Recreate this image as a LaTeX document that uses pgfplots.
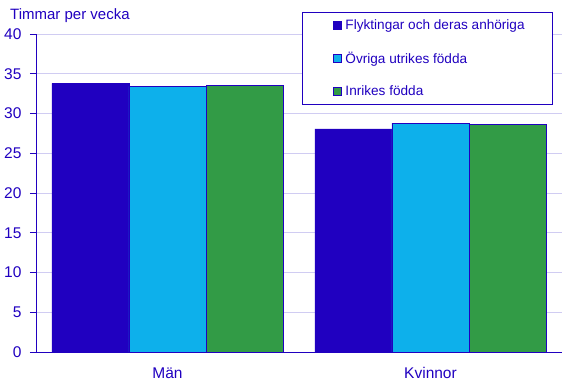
\documentclass[border=0pt]{standalone}
\usepackage{fontspec}
\setmainfont{Liberation Sans}
\usepackage{pgfplots}
\pgfplotsset{compat=1.18}
\definecolor{dblue}{RGB}{32,0,192}
\definecolor{lblue}{RGB}{13,176,235}
\definecolor{sgreen}{RGB}{50,155,70}
\definecolor{gridc}{RGB}{208,204,242}
\begin{document}
\begin{tikzpicture}
\begin{axis}[
  name=ax,
  scale only axis,
  width=526pt, height=318pt,
  ybar=0pt,
  bar width=0.293,
  xmin=-0.5, xmax=1.5,
  ymin=0, ymax=40,
  xtick={0,1},
  xticklabels={Män,Kvinnor},
  ytick={0,5,...,40},
  axis x line*=bottom,
  axis y line*=left,
  axis line style={dblue, line width=0.8pt},
  x axis line style={-},
  y axis line style={-},
  ymajorgrids,
  major grid style={gridc, line width=0.6pt},
  major y tick style={dblue, line width=0.8pt},
  major x tick style={draw=none},
  tick align=outside,
  major tick length=6pt,
  ticklabel style={text=dblue, font=\fontsize{15.5}{17}\selectfont},
  /pgf/number format/assume math mode=true,
  yticklabel style={xshift=-5pt},
  xticklabel style={yshift=-6pt},
  legend style={
    at={(0.983,1.069)}, anchor=north east,
    draw=dblue, line width=0.8pt, fill=white,
    font=\fontsize{13.6}{16}\selectfont,
    text=dblue,
    row sep=17pt,
    inner xsep=26pt, inner ysep=5pt,
    nodes={inner sep=2pt},
  },
  legend cell align=left,
  legend image code/.code={\path (0pt,0pt) (15pt,0pt); \draw[#1, line width=0.5pt] (5pt,-4pt) rectangle (13pt,4pt);},
]
\addplot[fill=dblue, draw=dblue, line width=0.5pt] coordinates {(0,33.8) (1,28.05)};
\addplot[fill=lblue, draw=dblue, line width=0.5pt] coordinates {(0,33.4) (1,28.8)};
\addplot[fill=sgreen, draw=dblue, line width=0.5pt] coordinates {(0,33.5) (1,28.65)};
\legend{Flyktingar och deras anhöriga, Övriga utrikes födda, Inrikes födda}
\end{axis}
\node[anchor=west, text=dblue, font=\fontsize{15}{17}\selectfont, inner sep=0pt] at ([xshift=-26pt, yshift=18pt]ax.north west) {Timmar per vecka};
\path (ax.south west) ++(-36pt,-35pt) rectangle ++(578pt,387pt);
\end{tikzpicture}
\end{document}
